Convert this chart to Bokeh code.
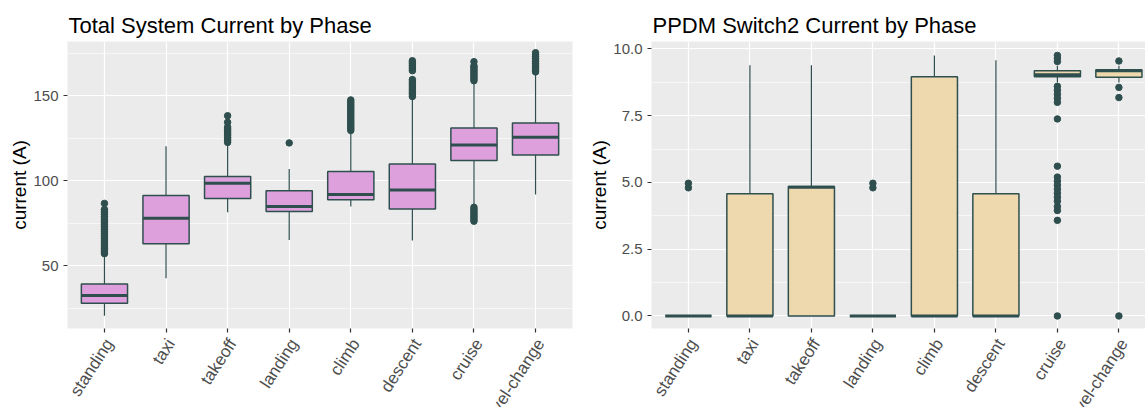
import math
from bokeh.plotting import figure
from bokeh.layouts import row
from bokeh.models import (Range1d, FixedTicker, SingleIntervalTicker, ColumnDataSource,
                          NumeralTickFormatter, LinearAxis)
from bokeh.embed import file_html
from bokeh.resources import INLINE

phases = ["standing", "taxi", "takeoff", "landing", "climb", "descent", "cruise", "level-change"]

# Total System Current (A): whisker low, Q1, median, Q3, whisker high
tot_low = [20.4, 42.5, 81.4, 65.1, 84.7, 64.7, 86.0, 91.8]
tot_q1 = [27.8, 62.8, 89.4, 81.8, 88.8, 83.3, 111.8, 115.1]
tot_med = [32.4, 77.8, 98.4, 84.7, 91.8, 94.5, 121.0, 125.5]
tot_q3 = [39.2, 91.2, 102.4, 94.1, 105.3, 109.8, 131.0, 133.9]
tot_high = [56.0, 120.2, 121.6, 106.9, 128.5, 148.5, 158.0, 163.0]
tot_out = {
    "standing": [57, 58, 59, 60, 61, 62, 63, 64, 65, 66, 67, 68, 69, 70, 71, 72, 73, 74, 75, 76, 77, 78,
                 79, 80, 81, 82, 83, 86.6],
    "taxi": [],
    "takeoff": [122.5, 123.5, 124.5, 125.5, 126.5, 127.5, 128.5, 129.5, 130.5, 131.5, 134.3, 138.2],
    "landing": [122.2],
    "climb": [129.5, 130.5, 131.5, 132.5, 133.5, 134.5, 135.5, 136.5, 137.5, 138.5, 139.5, 140.5, 141.5,
              142.5, 143.5, 144.5, 145.5, 146.5, 147.5],
    "descent": [149.5, 150.5, 151.5, 152.5, 153.5, 154.5, 155.5, 156.5, 157.5, 158.5, 159.5, 164.7, 165.7,
                166.7, 167.7, 168.7, 169.7, 170.6],
    "cruise": [76.1, 77.1, 78.1, 79.1, 80.1, 81.1, 82.1, 83.1, 84.3, 158.8, 159.8, 160.8, 161.8, 162.8, 163.8,
               164.8, 165.8, 166.8, 167.6, 170.0],
    "level-change": [164.0, 165.0, 166.0, 167.0, 168.0, 169.0, 170.0, 171.0, 172.0, 173.0, 174.0, 175.3],
}

# PPDM Switch2 Current (A)
sw_low = [0, 0, 0, 0, 0, 0, 8.74, 8.74]
sw_q1 = [0, 0, 0, 0, 0, 0, 8.96, 8.94]
sw_med = [0, 0, 4.82, 0, 0, 0, 9.03, 9.18]
sw_q3 = [0, 4.58, 4.85, 0, 8.96, 4.58, 9.18, 9.22]
sw_high = [0, 9.39, 9.39, 0, 9.76, 9.58, 9.37, 9.37]
sw_out = {
    "standing": [4.8, 4.97],
    "taxi": [],
    "takeoff": [],
    "landing": [4.8, 4.97],
    "climb": [],
    "descent": [],
    "cruise": [9.76, 9.65, 9.53, 8.6, 8.45, 8.3, 8.15, 8.0, 7.38, 5.61, 5.2, 5.05, 4.9, 4.75, 4.6, 4.45,
               4.3, 4.1, 3.95, 3.58, 0.0],
    "level-change": [9.55, 8.56, 8.18, 0.0],
}

EDGE = "#2F4F4F"
FONT = "Liberation Sans"
LABEL_SHIFT = 0.08  # horizontal shift of rotated category labels, in category units


def panel(title, low, q1, med, q3, high, outs, fill, y_start, y_end, interval, fmt,
          x_end, fw, bl, br):
    xs = [i + 1 for i in range(len(phases))]
    p = figure(output_backend="svg", toolbar_location=None,
               frame_width=fw, frame_height=287,
               min_border_left=bl, min_border_right=br, min_border_top=41, min_border_bottom=79,
               x_range=Range1d(0.4, x_end), y_range=Range1d(y_start, y_end),
               title=title)
    p.background_fill_color = "#EBEBEB"
    p.border_fill_color = "white"
    p.outline_line_color = None
    p.title.text_font = FONT
    p.title.text_font_size = "22px"
    p.title.text_font_style = "normal"
    p.title.text_color = "black"
    p.title.offset = 1
    p.title.standoff = 8

    src = ColumnDataSource(dict(x=xs, low=low, q1=q1, med=med, q3=q3, high=high,
                                left=[x - 0.375 for x in xs], right=[x + 0.375 for x in xs]))
    p.segment(x0="x", y0="low", x1="x", y1="q1", source=src, line_color=EDGE, line_width=1.2)
    p.segment(x0="x", y0="q3", x1="x", y1="high", source=src, line_color=EDGE, line_width=1.2)
    p.quad(left="left", right="right", bottom="q1", top="q3", source=src,
           fill_color=fill, line_color=EDGE, line_width=1.5)
    p.segment(x0="left", y0="med", x1="right", y1="med", source=src, line_color=EDGE, line_width=3)

    ox, oy = [], []
    for x, ph in zip(xs, phases):
        for v in outs[ph]:
            ox.append(x)
            oy.append(v)
    p.scatter(ox, oy, size=6.5, fill_color=EDGE, line_color=EDGE)

    # tick marks only
    p.xaxis.ticker = FixedTicker(ticks=xs)
    p.xaxis.major_label_overrides = {x: "" for x in xs}
    p.xaxis.major_label_text_font_size = "1px"
    p.xaxis.major_label_standoff = 0
    p.yaxis.ticker = SingleIntervalTicker(interval=interval, num_minor_ticks=2)
    p.yaxis.formatter = NumeralTickFormatter(format=fmt)
    for ax in (p.xaxis, p.yaxis):
        ax.axis_line_color = None
        ax.major_tick_line_color = "#333333"
        ax.major_tick_line_width = 1.2
        ax.major_tick_in = 0
        ax.major_tick_out = 4
        ax.minor_tick_line_color = None
    p.yaxis.major_label_text_font = FONT
    p.yaxis.major_label_text_color = "#4D4D4D"
    p.yaxis.major_label_text_font_size = "15px"
    p.yaxis.major_label_standoff = 5
    p.yaxis.axis_label = "current (A)"
    p.yaxis.axis_label_text_font = FONT
    p.yaxis.axis_label_text_font_size = "19px"
    p.yaxis.axis_label_text_font_style = "normal"
    p.yaxis.axis_label_text_color = "black"
    p.yaxis.axis_label_standoff = 0

    # rotated category labels, centred under their ticks like ggplot's
    lab_pos = [x + LABEL_SHIFT for x in xs]
    lab_axis = LinearAxis(ticker=FixedTicker(ticks=lab_pos),
                          major_label_overrides={lp: ph for lp, ph in zip(lab_pos, phases)})
    lab_axis.axis_line_color = None
    lab_axis.major_tick_line_color = None
    lab_axis.major_tick_in = 0
    lab_axis.major_tick_out = 0
    lab_axis.minor_tick_line_color = None
    lab_axis.major_label_orientation = math.radians(57)
    lab_axis.major_label_standoff = 8
    lab_axis.major_label_text_align = "center"
    lab_axis.major_label_text_baseline = "middle"
    lab_axis.major_label_text_font = FONT
    lab_axis.major_label_text_color = "#4D4D4D"
    lab_axis.major_label_text_font_size = "17px"
    p.add_layout(lab_axis, "below")

    p.xgrid.grid_line_color = "white"
    p.xgrid.grid_line_width = 1.2
    p.ygrid.grid_line_color = "white"
    p.ygrid.grid_line_width = 1.2
    p.ygrid.minor_grid_line_color = "white"
    p.ygrid.minor_grid_line_width = 0.6
    return p


p1 = panel("Total System Current by Phase", tot_low, tot_q1, tot_med, tot_q3, tot_high, tot_out,
           "#DDA0DD", 12.94, 181.9, 50, "0", 8.6, 505, 67, 6)
p2 = panel("PPDM Switch2 Current by Phase", sw_low, sw_q1, sw_med, sw_q3, sw_high, sw_out,
           "#EED8AE", -0.47, 10.28, 2.5, "0.0", 0.4 + 494 / 61.5, 494, 73, 0)

layout = row(p1, p2)
open("out.html", "w").write(file_html(layout, INLINE))
